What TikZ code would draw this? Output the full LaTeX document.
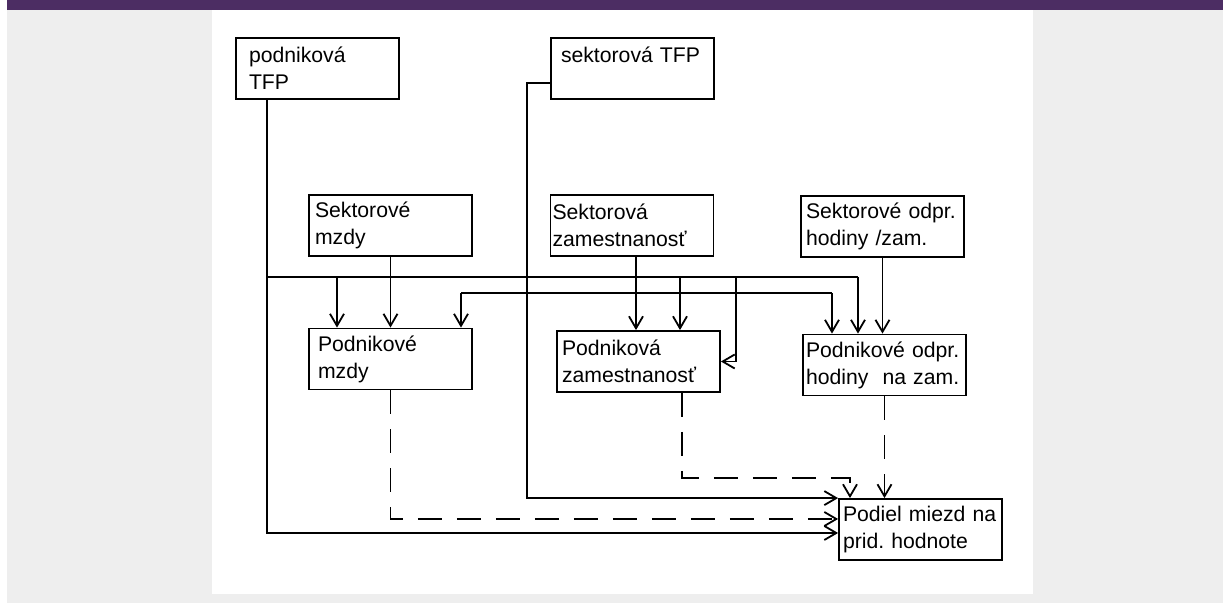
\documentclass[tikz,border=0pt]{standalone}
\usepackage{fontspec}
\setmainfont{Liberation Sans}
\usetikzlibrary{arrows.meta}
\definecolor{topbar}{HTML}{4C2D63}
\definecolor{pagegrey}{HTML}{EEEEEE}

\begin{document}
\begin{tikzpicture}[x=0.5pt,y=-0.5pt,
    box/.style={draw, line width=0.9pt, minimum height=30.5pt, inner ysep=0pt,
      inner xsep=#1, text width=81.5pt-2*#1, align=left,
      font=\fontsize{10.6}{13.5}\selectfont\frenchspacing},
    box/.default=2.5pt,
    link/.style={line width=0.9pt},
    arr/.style={link, -{Straight Barb[length=6pt,width=7pt]}},
    darr/.style={arr, dash pattern=on 12pt off 7.5pt}]
    \useasboundingbox (0,0) rectangle (1223,603);
    \fill [topbar] (7,0) rectangle (1223,10);
    \fill [pagegrey] (7,10) rectangle (1223,603);
    \fill [white] (212,10) rectangle (1033,594);
    \node [box=6.5pt] (ptfp) at (317.5,68.5) {podniková\\TFP};
    \node [box=5pt] (stfp) at (632.5,68.5) {sektorová TFP\\~};
    \node [box=3pt] (smzdy) at (390.5,225.5) {Sektorové\\mzdy};
    \node [box=1pt] (szam) at (632,225.5) {Sektorová\\zamestnanosť};
    \node [box=2.5pt] (sodpr) at (882.5,226.5) {Sektorové odpr.\\hodiny /zam.};
    \node [box=4.5pt] (pmzdy) at (390.5,359) {Podnikové\\mzdy};
    \node [box=2.5pt] (pzam) at (638.5,361.5) {Podniková\\zamestnanosť};
    \node [box=1.5pt] (podpr) at (884.5,365) {Podnikové odpr.\\hodiny~ na zam.};
    \node [box=2pt] (podiel) at (920.5,529.5) {Podiel miezd na\\prid. hodnote};
    \coordinate (u0) at (267,277);
    \coordinate (u1) at (337,277);
    \coordinate (u2) at (680,277);
    \coordinate (u3) at (736,277);
    \coordinate (u4) at (858,277);
    \coordinate (ub) at (267,533);
    \coordinate (s0) at (527,83);
    \coordinate (l1) at (461,293);
    \coordinate (l2) at (832,293);
    \coordinate (dz) at (682,478);
    \coordinate (dp) at (850,478);
    \coordinate (dm) at (391,519);
    \draw [arr] (ptfp.south -| u0) -- (ub) -- (podiel.west |- ub);
    \draw [link] (u0) -- (u4);
    \draw [arr] (u1) -- (pmzdy.north -| u1);
    \draw [arr] (u2) -- (pzam.north -| u2);
    \draw [arr] (u3) |- (pzam.east);
    \draw [arr] (u4) -- (podpr.north -| u4);
    \draw [arr] (stfp.west |- s0) -- (s0) -- (s0 |- podiel.north) -- (podiel.north west);
    \draw [link] (l1) -- (l2);
    \draw [arr] (l1) -- (pmzdy.north -| l1);
    \draw [arr] (l2) -- (podpr.north -| l2);
    \draw [arr] (smzdy) -- (pmzdy);
    \draw [arr] ([xshift=2pt]szam.south) -- ([xshift=2pt]szam.south |- pzam.north);
    \draw [arr] (sodpr.south) -- (sodpr.south |- podpr.north);
    \draw [darr] (pmzdy.south) |- (podiel.west |- dm);
    \draw [darr] (pzam.south -| dz) -- (dz) -- (dp) -- (podiel.north -| dp);
    \draw [darr] (podpr.south) -- (podpr.south |- podiel.north);
\end{tikzpicture}
\end{document}
